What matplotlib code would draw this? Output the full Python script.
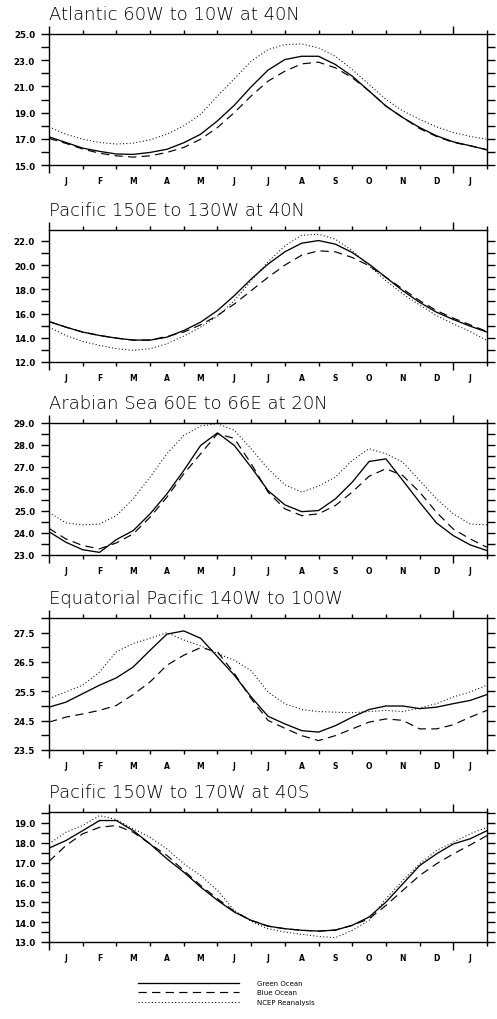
import numpy as np
import matplotlib.pyplot as plt
from matplotlib.ticker import FixedLocator, FormatStrFormatter

# half-month steps from 1 Jan to 1 Jan of next year (in months)
months = [0.0, 0.5, 1.0, 1.5, 2.0, 2.5, 3.0, 3.5, 4.0, 4.5, 5.0, 5.5, 6.0, 6.5,
          7.0, 7.5, 8.0, 8.5, 9.0, 9.5, 10.0, 10.5, 11.0, 11.5, 12.0, 12.5, 13.0]
month_labels = ['J', 'F', 'M', 'A', 'M', 'J', 'J', 'A', 'S', 'O', 'N', 'D', 'J']

titles = ['Atlantic 60W to 10W at 40N',
          'Pacific 150E to 130W at 40N',
          'Arabian Sea 60E to 66E at 20N',
          'Equatorial Pacific 140W to 100W',
          'Pacific 150W to 170W at 40S']

# Atlantic 60W-10W, 40N
atl_green = [17.15, 16.72, 16.29, 16.04, 15.84, 15.81, 15.96, 16.2, 16.7, 17.35, 18.37, 19.56, 20.97, 22.24,
             23.05, 23.3, 23.3, 22.67, 21.78, 20.65, 19.5, 18.62, 17.86, 17.23, 16.77, 16.47, 16.16]
atl_blue = [17.03, 16.65, 16.22, 15.9, 15.7, 15.6, 15.7, 15.96, 16.34, 16.97, 17.86, 19.0, 20.27, 21.4,
            22.16, 22.72, 22.85, 22.42, 21.66, 20.65, 19.5, 18.62, 17.78, 17.18, 16.72, 16.47, 16.16]
atl_ncep = [17.91, 17.35, 16.97, 16.72, 16.6, 16.67, 16.92, 17.35, 17.99, 18.87, 20.27, 21.58, 22.92, 23.81,
            24.19, 24.24, 23.94, 23.3, 22.29, 21.15, 20.01, 19.13, 18.49, 17.91, 17.48, 17.18, 16.97]

# Pacific 150E-130W, 40N
npac_green = [15.34, 14.88, 14.47, 14.19, 13.97, 13.81, 13.81, 14.05, 14.6, 15.29, 16.25, 17.48, 18.85, 20.08,
              21.1, 21.81, 22.03, 21.73, 21.04, 20.08, 18.99, 17.89, 16.93, 16.11, 15.51, 14.96, 14.47]
npac_blue = [15.34, 14.88, 14.47, 14.19, 13.97, 13.81, 13.81, 14.11, 14.47, 15.07, 15.84, 16.79, 17.89, 18.99,
             20.0, 20.82, 21.18, 21.1, 20.63, 19.95, 18.99, 18.03, 17.07, 16.25, 15.62, 15.07, 14.52]
npac_ncep = [14.88, 14.19, 13.7, 13.37, 13.1, 12.96, 13.1, 13.51, 14.14, 14.88, 15.78, 17.07, 18.71, 20.27,
             21.59, 22.47, 22.55, 22.14, 21.18, 19.95, 18.71, 17.62, 16.71, 15.84, 15.15, 14.52, 13.78]

# Arabian Sea 60E-66E, 20N
arb_green = [24.06, 23.58, 23.24, 23.12, 23.7, 24.11, 24.87, 25.78, 26.84, 27.98, 28.55, 27.98, 26.99, 25.93,
             25.28, 24.97, 25.02, 25.55, 26.31, 27.25, 27.37, 26.39, 25.4, 24.46, 23.88, 23.46, 23.2]
arb_blue = [24.21, 23.73, 23.43, 23.28, 23.55, 23.96, 24.72, 25.63, 26.69, 27.6, 28.51, 28.3, 27.15, 25.86,
            25.1, 24.79, 24.87, 25.25, 25.86, 26.58, 26.92, 26.61, 25.86, 24.94, 24.18, 23.73, 23.35]
arb_ncep = [24.94, 24.46, 24.37, 24.41, 24.79, 25.55, 26.54, 27.6, 28.44, 28.86, 28.97, 28.67, 27.83, 26.92,
            26.19, 25.86, 26.13, 26.54, 27.3, 27.83, 27.6, 27.22, 26.39, 25.55, 24.87, 24.41, 24.37]

# Equatorial Pacific 140W-100W
eq_green = [24.96, 25.13, 25.42, 25.71, 25.96, 26.33, 26.9, 27.45, 27.56, 27.31, 26.68, 26.05, 25.31, 24.65,
            24.39, 24.16, 24.11, 24.33, 24.62, 24.88, 25.0, 25.0, 24.91, 24.96, 25.08, 25.19, 25.39]
eq_blue = [24.45, 24.62, 24.73, 24.85, 25.02, 25.39, 25.82, 26.39, 26.73, 26.99, 26.85, 26.11, 25.25, 24.51,
           24.24, 23.99, 23.82, 23.99, 24.22, 24.45, 24.56, 24.51, 24.22, 24.22, 24.36, 24.62, 24.85]
eq_ncep = [25.25, 25.48, 25.71, 26.16, 26.85, 27.13, 27.31, 27.5, 27.25, 27.05, 26.79, 26.56, 26.2, 25.48,
           25.08, 24.88, 24.81, 24.79, 24.77, 24.81, 24.85, 24.81, 24.93, 25.08, 25.31, 25.48, 25.71]

# Pacific 150W-170W, 40S
spac_green = [17.73, 18.11, 18.61, 19.12, 19.12, 18.61, 17.94, 17.19, 16.52, 15.77, 15.1, 14.51, 14.09, 13.8,
              13.67, 13.59, 13.55, 13.6, 13.84, 14.26, 15.01, 15.93, 16.85, 17.44, 17.94, 18.2, 18.61]
spac_blue = [17.06, 17.86, 18.45, 18.78, 18.87, 18.53, 17.94, 17.36, 16.6, 15.85, 15.18, 14.54, 14.09, 13.8,
             13.67, 13.59, 13.55, 13.6, 13.84, 14.17, 14.84, 15.6, 16.35, 16.94, 17.44, 17.89, 18.36]
spac_ncep = [17.94, 18.53, 18.87, 19.37, 19.17, 18.7, 18.28, 17.69, 16.94, 16.35, 15.6, 14.59, 14.04, 13.67,
             13.5, 13.39, 13.28, 13.22, 13.59, 14.09, 15.18, 16.1, 16.94, 17.61, 18.03, 18.45, 18.78]

green = [atl_green, npac_green, arb_green, eq_green, spac_green]
blue = [atl_blue, npac_blue, arb_blue, eq_blue, spac_blue]
ncep = [atl_ncep, npac_ncep, arb_ncep, eq_ncep, spac_ncep]

ylims = [(15.0, 25.0), (12.0, 22.9), (23.0, 29.0), (23.5, 28.0), (13.0, 19.55)]
yticks = [[15.0, 17.0, 19.0, 21.0, 23.0, 25.0],
          [12.0, 14.0, 16.0, 18.0, 20.0, 22.0],
          [23.0, 24.0, 25.0, 26.0, 27.0, 28.0, 29.0],
          [23.5, 24.5, 25.5, 26.5, 27.5],
          [13.0, 14.0, 15.0, 16.0, 17.0, 18.0, 19.0]]
yminor = [[16.0, 18.0, 20.0, 22.0, 24.0],
          [13.0, 15.0, 17.0, 19.0, 21.0],
          [23.5, 24.5, 25.5, 26.5, 27.5, 28.5],
          [24.0, 25.0, 26.0, 27.0, 28.0],
          [13.5, 14.5, 15.5, 16.5, 17.5, 18.5, 19.5]]

# axes position in pixels (top, bottom)
W, H = 497, 1020
boxes = [(35, 166), (231, 363), (424, 556), (619, 751), (813, 943)]
left_px, right_px = 49, 487

fig = plt.figure(figsize=(W / 100, H / 100), dpi=100)

lines = None
for i in range(5):
    top, bot = boxes[i]
    ax = fig.add_axes([left_px / W, 1 - bot / H, (right_px - left_px) / W, (bot - top) / H])

    l1, = ax.plot(months, green[i], color='black', lw=0.95, label='Green Ocean')
    l2, = ax.plot(months, blue[i], color='black', lw=0.85, linestyle=(0, (7, 4.5)), label='Blue Ocean')
    l3, = ax.plot(months, ncep[i], color='black', lw=0.75, linestyle=(0, (1, 2.2)), label='NCEP Reanalysis')
    lines = [l1, l2, l3]

    ax.set_xlim(0, 13)
    ax.set_ylim(*ylims[i])

    for s in ax.spines.values():
        s.set_linewidth(1.0)

    # month boundaries as major ticks, month letters on minor ticks
    ax.xaxis.set_major_locator(FixedLocator(np.arange(0, 14)))
    ax.xaxis.set_minor_locator(FixedLocator(np.arange(0.5, 13, 1.0)))
    ax.set_xticklabels([], minor=False)
    ax.set_xticklabels(month_labels, minor=True)
    ax.tick_params(axis='x', which='major', direction='out', top=True, bottom=True,
                   length=3, width=1.0)
    ax.tick_params(axis='x', which='minor', length=0, pad=8,
                   labelsize=5.5, top=False)
    for lab in ax.get_xticklabels(minor=True):
        lab.set_fontweight('bold')
    # year boundaries get longer ticks
    majors = ax.xaxis.get_major_ticks()
    for k in (0, 12):
        majors[k].tick1line.set_markersize(5.5)
        majors[k].tick2line.set_markersize(5.5)

    ax.yaxis.set_major_locator(FixedLocator(yticks[i]))
    ax.yaxis.set_minor_locator(FixedLocator(yminor[i]))
    ax.yaxis.set_major_formatter(FormatStrFormatter('%.1f'))
    ax.tick_params(axis='y', which='both', direction='out', left=True, right=True,
                   length=6, width=1.0, labelsize=6.2, pad=4)
    for lab in ax.get_yticklabels():
        lab.set_fontweight('bold')

    ax.annotate(titles[i], xy=(0, 1), xycoords='axes fraction', xytext=(0, 11),
                textcoords='offset points', ha='left', va='baseline', fontsize=13,
                fontweight='light', color='black')

fig.legend(handles=lines, loc='upper left', bbox_to_anchor=(138 / W, 1 - 981 / H),
           frameon=False, fontsize=5, handlelength=14.5, handletextpad=2.6,
           labelspacing=0.5, borderpad=0, borderaxespad=0)

fig.savefig('out.png', dpi=100, facecolor='white')
